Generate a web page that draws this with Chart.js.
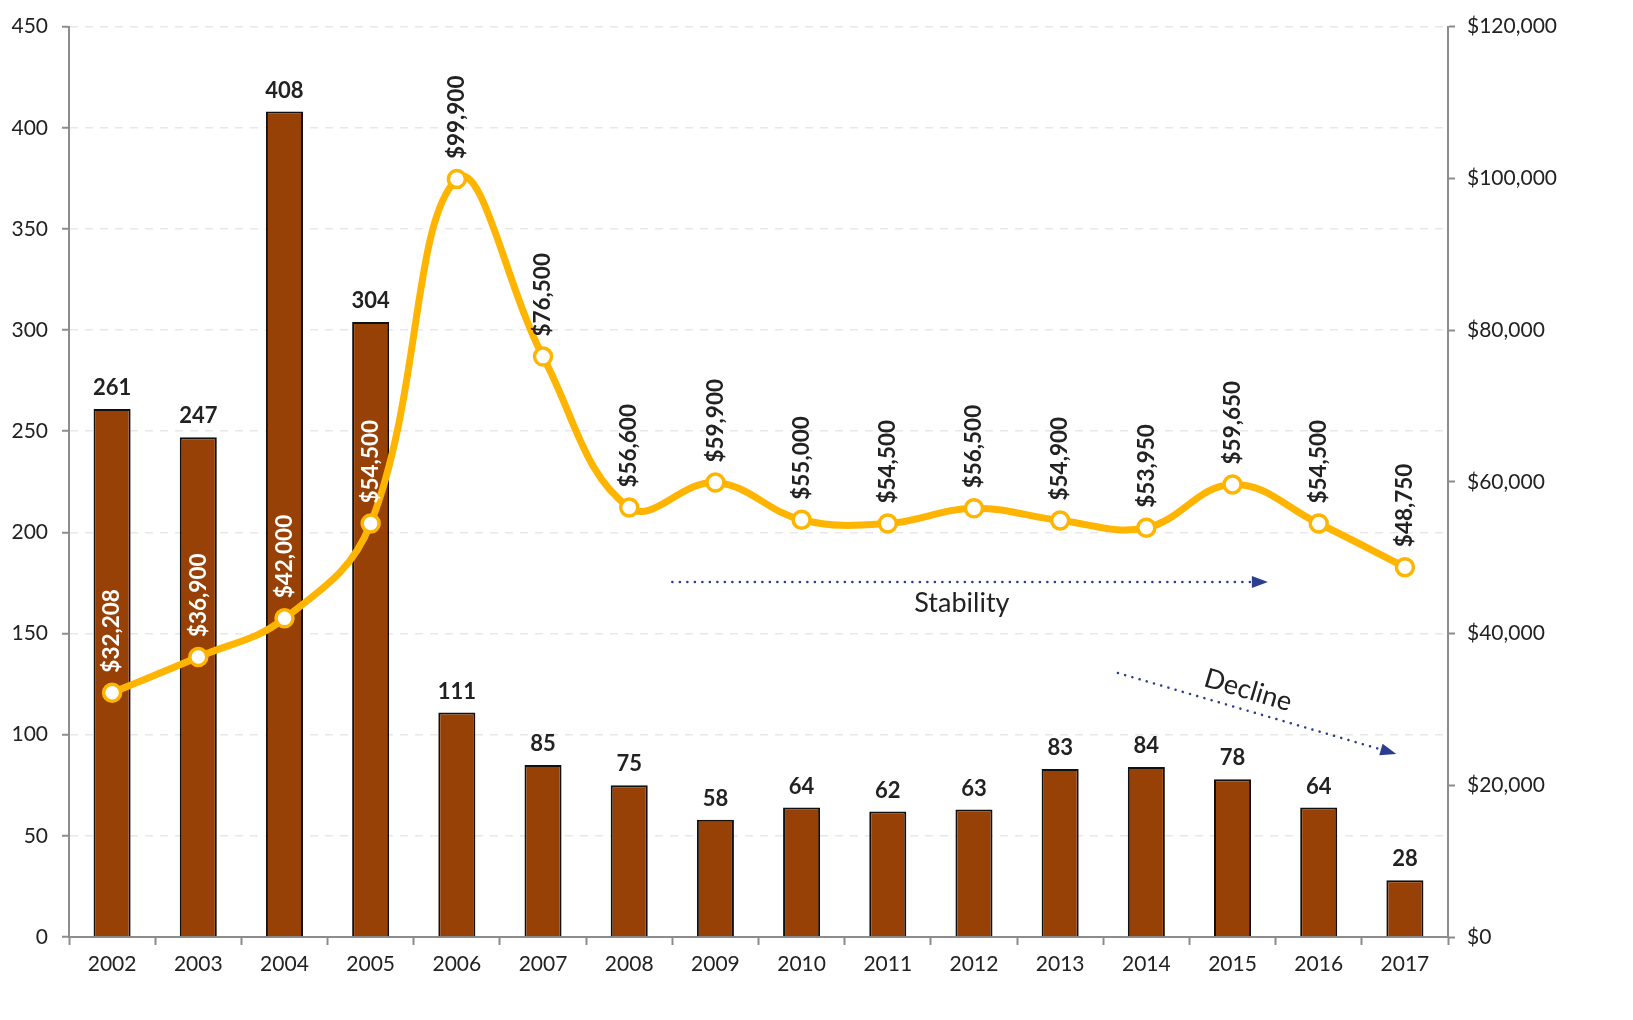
<!DOCTYPE html>
<html>
<head>
<meta charset="utf-8">
<script src="https://cdn.jsdelivr.net/npm/chart.js@4.4.1/dist/chart.umd.min.js"></script>
<style>
  html, body { margin: 0; padding: 0; background: #fff; }
  #wrap { width: 1633px; height: 1020px; }
</style>
</head>
<body>
<div id="wrap"><canvas id="chart"></canvas></div>
<script>
var years = ['2002','2003','2004','2005','2006','2007','2008','2009','2010','2011','2012','2013','2014','2015','2016','2017'];
var units = [261, 247, 408, 304, 111, 85, 75, 58, 64, 62, 63, 83, 84, 78, 64, 28];
var prices = [32208, 36900, 42000, 54500, 99900, 76500, 56600, 59900, 55000, 54500, 56500, 54900, 53950, 59650, 54500, 48750];
var leftTicks = [0, 50, 100, 150, 200, 250, 300, 350, 400, 450];

var FONT = 'Lato, "Open Sans", sans-serif';
var TEXT = '#222222';
var AXIS = '#8c8c8c';
var BAR = '#974106';
var LINE = '#FFB500';
var ARROW = '#2B3D8F';

function money(v) {
  return '$' + v.toLocaleString('en-US');
}

function dottedArrow(ctx, x1, y1, x2, y2) {
  var ang = Math.atan2(y2 - y1, x2 - x1);
  ctx.save();
  ctx.strokeStyle = ARROW;
  ctx.fillStyle = ARROW;
  ctx.lineWidth = 2.5;
  ctx.lineCap = 'round';
  ctx.setLineDash([0.1, 7.4]);
  ctx.beginPath();
  ctx.moveTo(x1, y1);
  ctx.lineTo(x2 - 12 * Math.cos(ang), y2 - 12 * Math.sin(ang));
  ctx.stroke();
  ctx.setLineDash([]);
  ctx.translate(x2, y2);
  ctx.rotate(ang);
  ctx.beginPath();
  ctx.moveTo(0, 0);
  ctx.lineTo(-16, -6);
  ctx.lineTo(-16, 6);
  ctx.closePath();
  ctx.fill();
  ctx.restore();
}

var labelPlugin = {
  id: 'labels',
  afterDatasetsDraw: function (chart) {
    var ctx = chart.ctx;
    var xs = chart.scales.x, ys = chart.scales.y;

    // annotations
    dottedArrow(ctx, xs.getPixelForValue(6.5), ys.getPixelForValue(175.5),
                     xs.getPixelForValue(13.41), ys.getPixelForValue(175.5));
    dottedArrow(ctx, xs.getPixelForValue(11.67), ys.getPixelForValue(130.5),
                     xs.getPixelForValue(14.9), ys.getPixelForValue(90.5));
    ctx.save();
    ctx.fillStyle = TEXT;
    ctx.font = '27px ' + FONT;
    ctx.textAlign = 'center';
    ctx.textBaseline = 'middle';
    ctx.fillText('Stability', xs.getPixelForValue(9.86), ys.getPixelForValue(165));
    ctx.translate(xs.getPixelForValue(13.18), ys.getPixelForValue(122));
    ctx.rotate(16.4 * Math.PI / 180);
    ctx.fillText('Decline', 0, 0);
    ctx.restore();

    // bar values
    ctx.save();
    ctx.fillStyle = TEXT;
    ctx.font = 'bold 22px ' + FONT;
    ctx.textAlign = 'center';
    ctx.textBaseline = 'bottom';
    chart.getDatasetMeta(0).data.forEach(function (el, i) {
      ctx.fillText(units[i], el.x, el.y - 10);
    });
    ctx.restore();

    // line values, rotated
    ctx.save();
    ctx.font = 'bold 22.5px ' + FONT;
    ctx.textAlign = 'left';
    ctx.textBaseline = 'middle';
    chart.getDatasetMeta(1).data.forEach(function (el, i) {
      ctx.save();
      ctx.fillStyle = i < 4 ? '#ffffff' : TEXT;
      ctx.translate(el.x, el.y - 20);
      ctx.rotate(-Math.PI / 2);
      ctx.fillText(money(prices[i]), 0, 0);
      ctx.restore();
    });
    ctx.restore();
  }
};

var ctx = document.getElementById('chart').getContext('2d');
var chart = new Chart(ctx, {
  data: {
    labels: years,
    datasets: [
      {
        type: 'bar',
        data: units,
        yAxisID: 'y',
        backgroundColor: BAR,
        borderColor: '#111111',
        borderWidth: 2,
        borderSkipped: 'bottom',
        categoryPercentage: 1,
        barPercentage: 0.43,
        order: 2
      },
      {
        type: 'line',
        data: prices,
        yAxisID: 'y1',
        borderColor: LINE,
        borderWidth: 7,
        tension: 0.4,
        pointRadius: 8.5,
        pointBorderWidth: 3.5,
        pointBackgroundColor: '#ffffff',
        pointBorderColor: LINE,
        order: 1
      }
    ]
  },
  options: {
    responsive: true,
    maintainAspectRatio: false,
    animation: false,
    layout: { padding: { top: 16, left: 0, right: 0, bottom: 0 } },
    plugins: { legend: { display: false }, tooltip: { enabled: false } },
    scales: {
      x: {
        offset: true,
        afterFit: function (s) { s.height = 83; },
        border: { color: AXIS, width: 2 },
        grid: { offset: true, drawOnChartArea: false, drawTicks: true, tickLength: 8, tickColor: AXIS, tickWidth: 2 },
        ticks: { color: TEXT, font: { family: FONT, size: 21 }, padding: 7, maxRotation: 0 }
      },
      y: {
        position: 'left',
        min: 0, max: 450,
        afterFit: function (s) { s.width = 69; },
        afterBuildTicks: function (s) { s.ticks = leftTicks.map(function (v) { return { value: v }; }); },
        border: { color: AXIS, width: 2, dash: [8, 7] },
        grid: { color: '#e8e8e8', lineWidth: 1.5, tickColor: AXIS, tickLength: 7, tickWidth: 2, tickBorderDash: [] },
        ticks: { color: TEXT, font: { family: FONT, size: 21 }, padding: 14 }
      },
      y1: {
        position: 'right',
        min: 0, max: 120000,
        afterFit: function (s) { s.width = 185; },
        border: { color: AXIS, width: 2 },
        grid: { drawOnChartArea: false, tickColor: AXIS, tickLength: 7, tickWidth: 2 },
        ticks: { stepSize: 20000, color: TEXT, font: { family: FONT, size: 21 }, padding: 12,
                 callback: function (v) { return money(v); } }
      }
    }
  },
  plugins: [labelPlugin]
});
</script>
</body>
</html>
